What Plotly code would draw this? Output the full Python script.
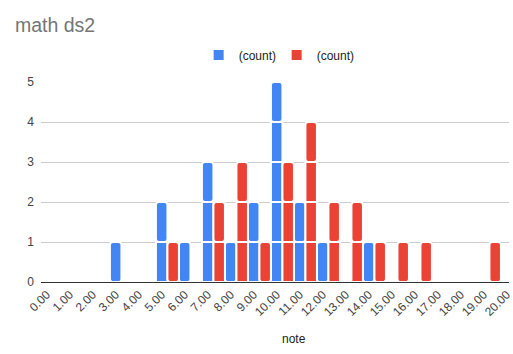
import plotly.graph_objects as go

# ---- data ----
notes = list(range(0, 21))
tick_labels = [f"{n:.2f}" for n in notes]
blue_counts = [0, 0, 0, 1, 0, 2, 1, 3, 1, 2, 5, 2, 1, 0, 1, 0, 0, 0, 0, 0, 0]
red_counts = [0, 0, 0, 0, 0, 1, 0, 2, 3, 1, 3, 4, 2, 2, 1, 1, 1, 0, 0, 1, 0]
series_names = ["(count)", "(count)"]

BLUE = "#4285F4"
RED = "#EA4335"
FONT = "Arial, Liberation Sans, sans-serif"

fig = go.Figure()

bar_w = 0.50
series = [
    (series_names[0], blue_counts, BLUE, -bar_w / 2),
    (series_names[1], red_counts, RED, 0.5 - bar_w / 2),
]

for si, (name, counts, color, off) in enumerate(series):
    shown = False
    for level in range(1, max(counts) + 1):
        for top in (False, True):
            xs = [n for n, c in zip(notes, counts) if (c == level if top else c > level)]
            if not xs:
                continue
            fig.add_trace(go.Bar(
                x=xs,
                y=[1] * len(xs),
                base=[level - 1] * len(xs),
                width=bar_w,
                offset=off,
                name=name,
                legendgroup=f"s{si}",
                showlegend=not shown,
                marker=dict(color=color, line=dict(color="white", width=2),
                            cornerradius=3 if top else 0),
                hoverinfo="skip",
            ))
            shown = True

fig.update_layout(
    width=513, height=354,
    margin=dict(l=41, r=0, t=82, b=72),
    paper_bgcolor="white", plot_bgcolor="white",
    barmode="overlay",
    font=dict(family=FONT, color="#444444", size=12),
    title=dict(text="math ds2", x=15 / 513, xanchor="left", xref="container",
               y=1 - 25 / 354, yanchor="middle",
               font=dict(family=FONT, size=19.5, color="#757575")),
    legend=dict(orientation="h", x=(200 - 41) / 472, xanchor="left", y=1.135, yanchor="middle",
                font=dict(family=FONT, size=12, color="#222222"),
                entrywidth=33, entrywidthmode="pixels",
                itemclick=False, traceorder="normal"),
    showlegend=True,
)

fig.update_xaxes(
    range=[-0.247, 20.1],
    tickmode="array", tickvals=notes, ticktext=tick_labels,
    tickangle=-45, showgrid=False, zeroline=False,
    showline=True, linecolor="#333333", linewidth=1,
    tickfont=dict(family=FONT, size=12, color="#444444"),
    ticks="", ticklabeloverflow="allow",
)
fig.update_yaxes(
    range=[0, 5], dtick=1, tick0=0,
    showgrid=True, gridcolor="#cccccc", gridwidth=1,
    zeroline=False, showline=False,
    tickfont=dict(family=FONT, size=12, color="#444444"),
    ticklabelstandoff=6,
)

fig.add_annotation(text="note", xref="paper", yref="paper",
                   x=(296.5 - 41) / 472, y=(282 - 339) / 200,
                   xanchor="center", yanchor="middle", showarrow=False,
                   font=dict(family=FONT, size=12, color="#222222"))

fig.write_html("out.html")
